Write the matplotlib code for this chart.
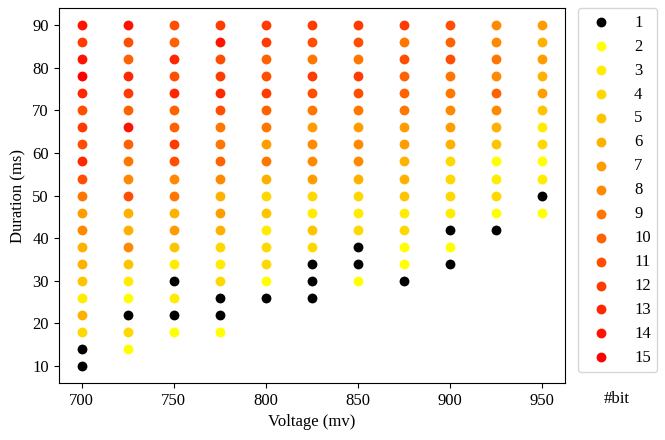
import matplotlib
matplotlib.use("Agg")
import matplotlib.pyplot as plt
import numpy as np

plt.rcParams['font.family'] = ['Liberation Serif', 'DejaVu Serif']
plt.rcParams['font.size'] = 12

voltages = [700, 725, 750, 775, 800, 825, 850, 875, 900, 925, 950]
durations_top_down = [90, 86, 82, 78, 74, 70, 66, 62, 58, 54, 50, 46, 42, 38, 34, 30, 26, 22, 18, 14, 10]

# bits per voltage column, listed from duration 90 downward
bits_700 = [14, 12, 14, 15, 13, 11, 12, 11, 13, 11, 9, 7, 8, 6, 6, 5, 3, 6, 4, 1, 1]
bits_725 = [14, 11, 10, 13, 12, 10, 14, 10, 9, 8, 11, 6, 6, 8, 5, 3, 2, 1, 4, 2]
bits_750 = [11, 10, 13, 11, 13, 10, 10, 12, 11, 8, 9, 6, 7, 5, 3, 1, 3, 1, 2]
bits_775 = [12, 14, 11, 12, 13, 11, 9, 9, 10, 8, 6, 7, 6, 4, 3, 4, 1, 1, 2]
bits_800 = [12, 12, 10, 11, 12, 10, 9, 7, 9, 6, 4, 5, 3, 4, 4, 2, 1]
bits_825 = [12, 11, 9, 12, 11, 9, 7, 8, 8, 7, 4, 3, 5, 4, 1, 1, 1]
bits_850 = [12, 11, 9, 12, 11, 9, 7, 8, 8, 6, 4, 3, 4, 1, 1, 2]
bits_875 = [12, 9, 11, 10, 10, 9, 7, 7, 6, 6, 5, 3, 4, 2, 2, 1]
bits_900 = [11, 10, 11, 9, 9, 8, 7, 6, 4, 4, 4, 3, 1, 2, 1]
bits_925 = [8, 8, 9, 8, 10, 8, 6, 5, 2, 3, 4, 2, 1]
bits_950 = [7, 6, 7, 6, 7, 5, 3, 4, 2, 3, 1, 2]

columns = [bits_700, bits_725, bits_750, bits_775, bits_800, bits_825,
           bits_850, bits_875, bits_900, bits_925, bits_950]

bit_levels = list(range(1, 16))

xs, ys, bs = [], [], []
for v, col in zip(voltages, columns):
    for d, b in zip(durations_top_down, col):
        xs.append(v); ys.append(d); bs.append(b)
xs = np.array(xs); ys = np.array(ys); bs = np.array(bs)

cmap = plt.get_cmap('autumn_r')
def color_for(b):
    if b == 1:
        return 'black'
    return cmap((b - 2) / 13.0)

fig = plt.figure(figsize=(6.65, 4.4), dpi=100)
ax = fig.add_axes([0.088, 0.1295, 0.761, 0.852])

for b in bit_levels:
    m = bs == b
    ax.scatter(xs[m], ys[m], s=50, color=color_for(b), label=str(b), linewidths=0)

ax.set_xlabel('Voltage (mv)')
ax.set_ylabel('Duration (ms)')
ax.set_xticks([700, 750, 800, 850, 900, 950])
ax.set_yticks([10, 20, 30, 40, 50, 60, 70, 80, 90])

leg = ax.legend(loc='upper left', bbox_to_anchor=(1.026, 1.0), borderaxespad=0,
                handletextpad=0.98, labelspacing=0.475, borderpad=0.4,
                handlelength=2.0, frameon=True)
fig.text(0.928, 0.093, '#bit', ha='center', va='center', fontsize=12)

fig.savefig('out.png', dpi=100)
